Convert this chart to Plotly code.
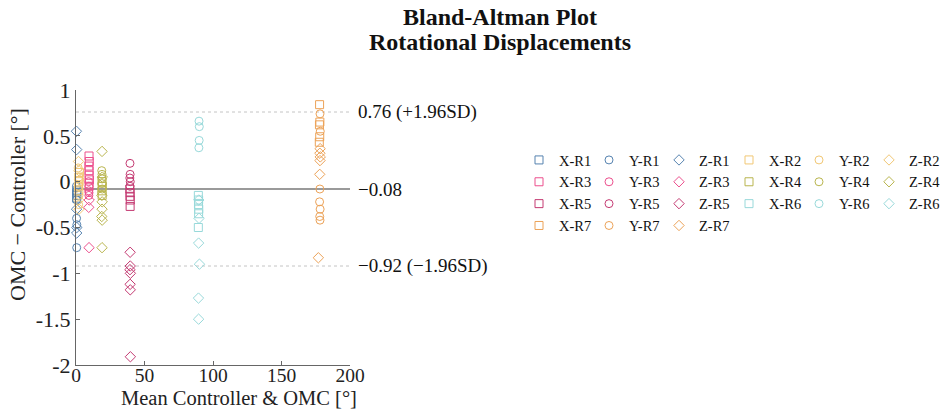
import plotly.graph_objects as go

# ---------------- data ----------------
series_names = ["X-R1", "Y-R1", "Z-R1", "X-R2", "Y-R2", "Z-R2",
                "X-R3", "Y-R3", "Z-R3", "X-R4", "Y-R4", "Z-R4",
                "X-R5", "Y-R5", "Z-R5", "X-R6", "Y-R6", "Z-R6",
                "X-R7", "Y-R7", "Z-R7"]

# mean of controller & OMC (x) and difference OMC - controller (y) per series
x_XR1 = [0.4, 0.6, 0.5, 0.7]
y_XR1 = [-0.12, -0.15, -0.18, -0.10]
x_YR1 = [0.3, 0.5, 0.4, 0.6, 0.5, 0.4]
y_YR1 = [-0.05, -0.12, -0.40, -0.47, -0.72, -0.20]
x_ZR1 = [0.3, 0.5, 0.4, 0.6, 0.5]
y_ZR1 = [0.55, 0.35, -0.30, -0.50, -0.56]

x_XR2 = [2.0, 2.3, 1.8, 2.1, 2.5]
y_XR2 = [0.05, 0.00, -0.05, -0.10, 0.10]
x_YR2 = [1.6, 2.0, 1.8, 2.2, 1.9]
y_YR2 = [0.15, 0.05, -0.05, -0.15, -0.25]
x_ZR2 = [1.8, 2.1, 2.4, 1.9, 2.2]
y_ZR2 = [0.22, 0.12, 0.02, -0.20, -0.30]

x_XR3 = [9.5, 9.7, 9.4, 9.6, 9.5, 9.8, 9.6]
y_XR3 = [0.28, 0.22, 0.17, 0.12, 0.07, 0.02, -0.05]
x_YR3 = [9.2, 9.4, 9.3, 9.5, 9.4]
y_YR3 = [0.00, -0.05, -0.10, -0.12, -0.15]
x_ZR3 = [9.6, 9.3, 9.5]
y_ZR3 = [-0.20, -0.28, -0.72]

x_XR4 = [19.0, 19.2, 18.9, 19.1]
y_XR4 = [0.00, -0.05, -0.10, -0.15]
x_YR4 = [18.8, 19.0, 19.1, 18.9, 19.2]
y_YR4 = [0.12, 0.08, 0.03, -0.02, -0.08]
x_ZR4 = [19.0, 19.2, 18.9, 19.1, 19.0, 18.8, 19.1, 19.0]
y_ZR4 = [0.33, 0.05, -0.15, -0.22, -0.30, -0.38, -0.42, -0.72]

x_XR5 = [39.3, 39.5, 39.4, 39.6, 39.5]
y_XR5 = [-0.08, -0.12, -0.16, -0.20, -0.27]
x_YR5 = [39.4, 39.5, 39.3, 39.6, 39.4]
y_YR5 = [0.20, 0.08, 0.04, 0.00, -0.05]
x_ZR5 = [39.5, 39.6, 39.4, 39.7, 39.5, 39.6, 39.7]
y_ZR5 = [-0.77, -0.92, -0.96, -1.00, -1.12, -1.18, -1.91]

x_XR6 = [89.3, 89.5, 89.4, 89.6, 89.5, 89.3]
y_XR6 = [-0.15, -0.20, -0.25, -0.30, -0.35, -0.50]
x_YR6 = [89.8, 90.0, 89.9, 89.7]
y_YR6 = [0.66, 0.60, 0.45, 0.37]
x_ZR6 = [89.6, 89.8, 89.5, 90.1, 89.4, 89.5]
y_ZR6 = [-0.20, -0.40, -0.67, -0.90, -1.27, -1.50]

x_XR7 = [177.8, 178.0, 177.7, 177.9, 177.6]
y_XR7 = [0.84, 0.65, 0.62, 0.49, 0.43]
x_YR7 = [178.1, 178.3, 178.0, 177.8, 178.2, 177.9, 178.1]
y_YR7 = [0.74, 0.55, -0.08, -0.22, -0.30, -0.38, -0.42]
x_ZR7 = [178.2, 178.0, 178.3, 178.1, 177.9, 176.9]
y_ZR7 = [0.36, 0.31, 0.27, 0.23, 0.08, -0.83]

limit_values = [0.76, -0.08, -0.92]          # +1.96SD, mean bias, -1.96SD
limit_labels = ["0.76 (+1.96SD)", "\u22120.08", "\u22120.92 (\u22121.96SD)"]

title_lines = ["Bland-Altman Plot", "Rotational Displacements"]
x_title = "Mean Controller &amp; OMC [°]"
y_title = "OMC \u2212 Controller [°]"

x_tickvals = [0, 50, 100, 150, 200]
x_ticktext = ["0", "50", "100", "150", "200"]
y_tickvals = [-2, -1.5, -1, -0.5, 0, 0.5, 1]
y_ticktext = ["-2", "-1.5", "-1", "-0.5", "0", "0.5", "1"]

# ---------------- styling ----------------
r_colors = ["#5683b0", "#f1c774", "#ec4f8d", "#b9b54e", "#c43a72", "#98d9da", "#eca257"]
axis_symbols = {"X": "square-open", "Y": "circle-open", "Z": "diamond-open"}

xs = [x_XR1, x_YR1, x_ZR1, x_XR2, x_YR2, x_ZR2, x_XR3, x_YR3, x_ZR3,
      x_XR4, x_YR4, x_ZR4, x_XR5, x_YR5, x_ZR5, x_XR6, x_YR6, x_ZR6,
      x_XR7, x_YR7, x_ZR7]
ys = [y_XR1, y_YR1, y_ZR1, y_XR2, y_YR2, y_ZR2, y_XR3, y_YR3, y_ZR3,
      y_XR4, y_YR4, y_ZR4, y_XR5, y_YR5, y_ZR5, y_XR6, y_YR6, y_ZR6,
      y_XR7, y_YR7, y_ZR7]

FONT = "Liberation Serif, Times New Roman, serif"
W, H = 950, 409
ML, MR, MT, MB = 76, 600, 90, 44
PW, PH = W - ML - MR, H - MT - MB

def px_to_paper(px, py):
    return (px - ML) / PW, (H - MB - py) / PH

# legend laid out as 6 columns x 4 rows (one vertical legend per column)
N_COLS = 6
legend_ids = ["legend"] + ["legend%d" % k for k in range(2, N_COLS + 1)]
LEG_X0, LEG_DX, LEG_TOP = 519, 70, 144

fig = go.Figure()
for i, name in enumerate(series_names):
    color = r_colors[i // 3]
    fig.add_trace(go.Scatter(
        x=xs[i], y=ys[i], mode="markers", name=name, cliponaxis=False,
        legend=legend_ids[i % N_COLS],
        marker=dict(symbol=axis_symbols[name[0]], size=8, color=color,
                    line=dict(color=color, width=1)),
    ))

# limits of agreement
for v, style in zip(limit_values, ["dot", "solid", "dot"]):
    fig.add_shape(type="line", xref="x", yref="y", x0=0, x1=200, y0=v, y1=v,
                  line=dict(color="#9a9a9a" if style == "solid" else "#c4c4c4",
                            width=2 if style == "solid" else 1, dash=style),
                  layer="below")
for v, t in zip(limit_values, limit_labels):
    fig.add_annotation(x=200, y=v, xref="x", yref="y", text=t, showarrow=False,
                       xanchor="left", yanchor="middle", xshift=6,
                       font=dict(family=FONT, size=19, color="#111"))

# second title line
tx, ty = px_to_paper(500, 42)
fig.add_annotation(x=tx, y=ty, xref="paper", yref="paper",
                   text="<b>%s</b>" % title_lines[1], showarrow=False,
                   xanchor="center", yanchor="middle",
                   font=dict(family=FONT, size=24, color="#111"))

# axis titles
ax, ay = px_to_paper(239, 398)
fig.add_annotation(x=ax, y=ay, xref="paper", yref="paper",
                   text=x_title, showarrow=False,
                   xanchor="center", yanchor="middle",
                   font=dict(family=FONT, size=20.5, color="#222"))
bx, by = px_to_paper(17, 205)
fig.add_annotation(x=bx, y=by, xref="paper", yref="paper",
                   text=y_title, showarrow=False, textangle=-90,
                   xanchor="center", yanchor="middle",
                   font=dict(family=FONT, size=22, color="#222"))

legend_layout = {}
for k, lid in enumerate(legend_ids):
    legend_layout[lid] = dict(orientation="v", xref="container", yref="container",
                              x=(LEG_X0 + k * LEG_DX) / W, xanchor="left",
                              y=1 - LEG_TOP / H, yanchor="top",
                              font=dict(family=FONT, size=14.5, color="#111"),
                              bgcolor="rgba(0,0,0,0)", borderwidth=0)

fig.update_layout(
    width=W, height=H,
    margin=dict(l=ML, r=MR, t=MT, b=MB, autoexpand=False),
    paper_bgcolor="white", plot_bgcolor="white",
    font=dict(family=FONT, color="#111"),
    title=dict(text="<b>%s</b>" % title_lines[0],
               x=500 / W, xanchor="center", xref="container",
               y=1 - 17 / H, yanchor="middle", yref="container",
               font=dict(family=FONT, size=24, color="#111")),
    showlegend=True,
    **legend_layout,
)
fig.update_xaxes(range=[0, 200], tickvals=x_tickvals, ticktext=x_ticktext,
                 showgrid=False, zeroline=False, showline=True, linecolor="#666",
                 linewidth=1, ticks="inside", ticklen=4, tickcolor="#666",
                 ticklabelstandoff=-7,
                 tickfont=dict(family=FONT, size=19.5, color="#222"))
fig.update_yaxes(range=[-2, 1], tickvals=y_tickvals, ticktext=y_ticktext,
                 showgrid=False, zeroline=False, showline=True, linecolor="#666",
                 linewidth=1, ticks="inside", ticklen=4, tickcolor="#666",
                 tickfont=dict(family=FONT, size=22, color="#222"))

fig.write_html("out.html")
